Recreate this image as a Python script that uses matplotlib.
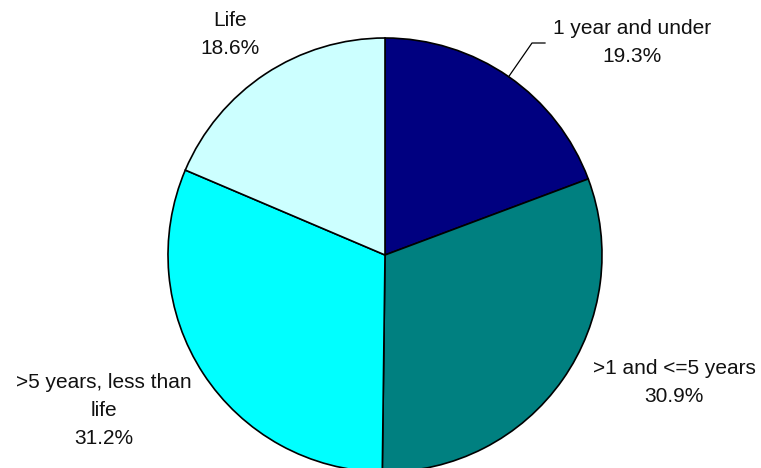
import numpy as np
import matplotlib
matplotlib.use("Agg")
import matplotlib.pyplot as plt

categories = ["1 year and under", ">1 and <=5 years", ">5 years, less than\nlife", "Life"]
values = [19.3, 30.9, 31.2, 18.6]
colors = ["#000080", "#008080", "#00FFFF", "#CCFFFF"]

W, H = 761, 468
fig = plt.figure(figsize=(W / 100, H / 100), dpi=100)
ax = fig.add_axes([0, 0, 1, 1])

cx, cy, r = 385, H - 255, 217
wedges, _ = ax.pie(values, colors=colors, startangle=90, counterclock=False,
                   center=(cx, cy), radius=r, frame=True,
                   wedgeprops=dict(edgecolor="black", linewidth=1.2))
ax.set_xlim(0, W)
ax.set_ylim(0, H)
ax.set_aspect("equal")
ax.axis("off")

label_pos = [(632, H - 42), (674, H - 382), (104, H - 410), (230, H - 34)]
for cat, val, (x, y) in zip(categories, values, label_pos):
    ax.text(x, y, f"{cat}\n{val:.1f}%", ha="center", va="center",
            fontsize=15, linespacing=1.6, family=["Liberation Sans", "DejaVu Sans"],
            color="#111111")

# leader line for first slice
mid = np.deg2rad(90 - values[0] / 2 * 3.6)
ex, ey = cx + r * np.cos(mid), cy + r * np.sin(mid)
ax.plot([ex, 532, 545], [ey, H - 43, H - 43], color="black", linewidth=0.9)

fig.savefig("out.png", dpi=100)
